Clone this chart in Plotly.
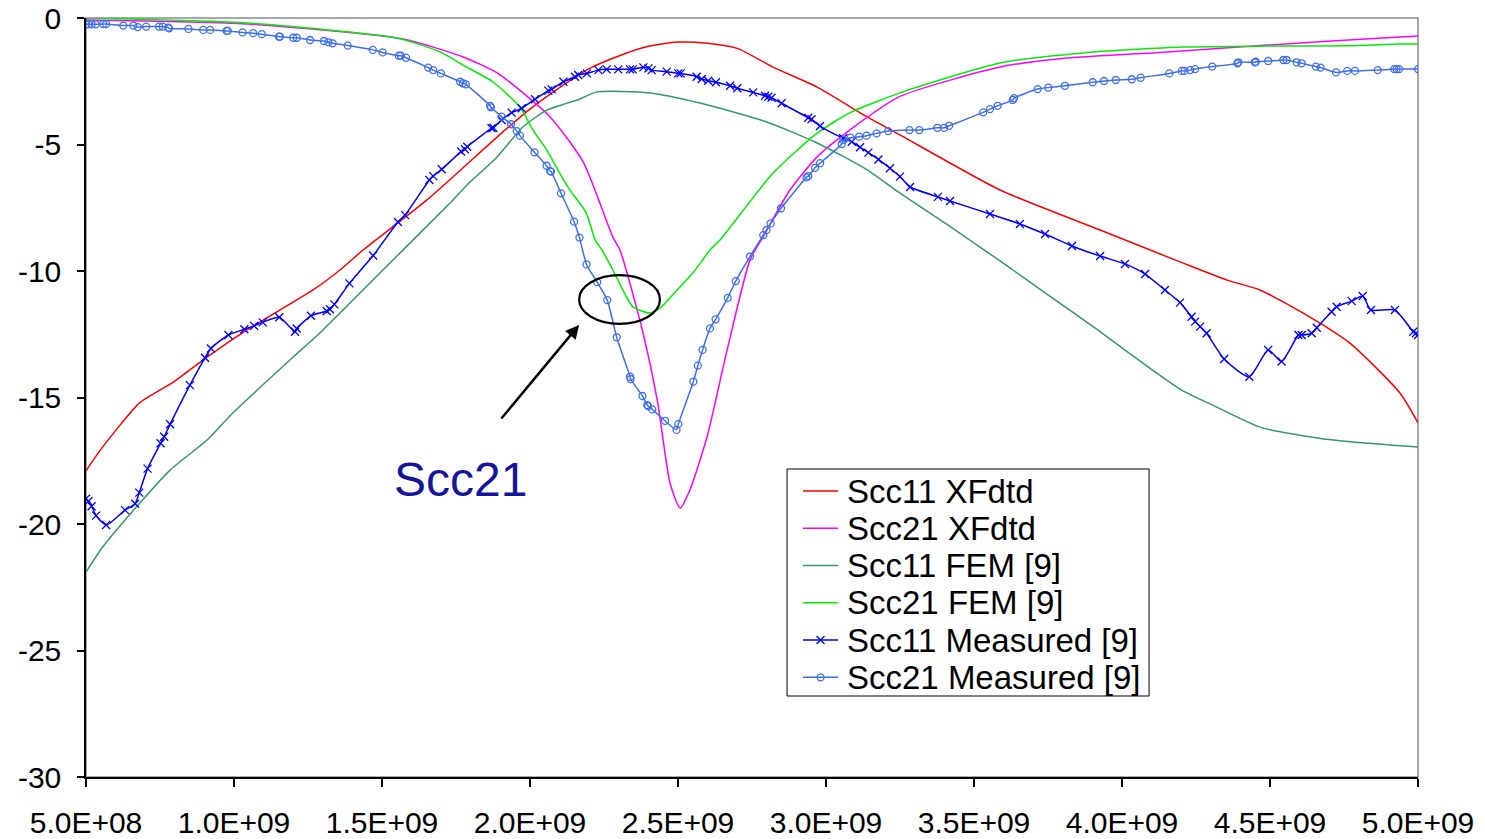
import plotly.graph_objects as go

# Frequency in GHz, magnitude in dB
f_scc11_xf = [0.5, 0.547, 0.682, 0.794, 0.909, 1.044, 1.267, 1.358, 1.436, 1.652, 1.899, 2.0, 2.1, 2.2,
              2.3, 2.4, 2.5, 2.6, 2.7, 2.821, 2.97, 3.139, 3.25, 3.588, 3.926, 4.196, 4.355, 4.466, 4.635,
              4.77, 4.939, 5.0]
db_scc11_xf = [-17.9, -17.1, -15.2, -14.4, -13.4, -12.33, -10.75, -9.96, -9.17, -7.19, -4.6, -3.6, -2.75,
               -2.0, -1.5, -1.12, -0.95, -1.0, -1.2, -1.94, -2.73, -3.91, -4.62, -6.8, -8.38, -9.64, -10.36,
               -10.75, -11.82, -12.85, -14.82, -16.0]

f_scc21_xf = [0.5, 1.044, 1.571, 1.774, 1.889, 2.068, 2.18, 2.28, 2.304, 2.382, 2.43, 2.473, 2.507, 2.54,
              2.598, 2.666, 2.743, 2.787, 2.878, 2.97, 3.08, 3.25, 3.588, 3.814, 4.152, 4.49, 4.939, 5.0]
db_scc21_xf = [-0.08, -0.24, -0.83, -1.54, -2.17, -3.91, -5.7, -8.66, -9.17, -12.45, -15.1, -18.38, -19.37,
               -18.66, -16.56, -13.12, -9.57, -8.66, -6.8, -5.49, -4.43, -3.1, -1.94, -1.58, -1.34, -1.07,
               -0.75, -0.71]

f_scc11_fem = [0.5, 0.557, 0.682, 0.784, 0.909, 0.997, 1.2, 1.29, 1.493, 1.74, 1.787, 1.889, 1.976, 2.057,
               2.169, 2.226, 2.405, 2.574, 2.8, 2.97, 3.139, 3.25, 3.42, 3.588, 3.757, 3.926, 4.095, 4.2,
               4.32, 4.466, 4.66, 4.77, 5.0]
db_scc11_fem = [-21.9, -20.9, -19.17, -17.87, -16.68, -15.6, -13.4, -12.45, -10.08, -7.19, -6.6, -5.49, -4.31,
                -3.64, -3.2, -2.92, -2.96, -3.36, -4.11, -4.94, -6.0, -6.92, -8.25, -9.6, -11.0, -12.4,
                -13.85, -14.7, -15.38, -16.17, -16.6, -16.75, -16.96]

f_scc21_fem = [0.5, 1.044, 1.55, 1.696, 1.774, 1.875, 1.966, 2.01, 2.057, 2.1, 2.135, 2.19, 2.22, 2.243,
               2.28, 2.348, 2.405, 2.44, 2.497, 2.55, 2.608, 2.642, 2.821, 2.97, 3.08, 3.25, 3.588, 3.868,
               4.206, 4.49, 4.77, 4.94, 5.0]
db_scc21_fem = [0.0, -0.2, -0.79, -1.34, -1.86, -2.53, -3.52, -4.43, -5.22, -6.13, -6.8, -7.7, -8.77, -9.17,
                -9.96, -11.42, -11.66, -11.46, -10.75, -10.08, -9.17, -8.77, -6.13, -4.55, -3.75, -2.96,
                -1.78, -1.38, -1.15, -1.11, -1.1, -1.03, -1.03]

f_scc11_meas = [0.5, 0.508, 0.519, 0.534, 0.568, 0.632, 0.666, 0.68, 0.708, 0.752, 0.764, 0.784, 0.851,
                0.902, 0.922, 0.981, 1.035, 1.068, 1.097, 1.153, 1.206, 1.212, 1.26, 1.313, 1.324, 1.339,
                1.39, 1.47, 1.554, 1.578, 1.66, 1.673, 1.702, 1.767, 1.78, 1.788, 1.87, 1.876, 1.904,
                1.938, 1.972, 2.017, 2.062, 2.073, 2.113, 2.152, 2.163, 2.192, 2.231, 2.259, 2.298, 2.338,
                2.347, 2.383, 2.4, 2.411, 2.462, 2.501, 2.509, 2.563, 2.58, 2.602, 2.628, 2.676, 2.7,
                2.754, 2.794, 2.805, 2.816, 2.85, 2.94, 2.951, 2.98, 3.058, 3.087, 3.115, 3.143, 3.177,
                3.216, 3.25, 3.284, 3.378, 3.419, 3.554, 3.655, 3.74, 3.831, 3.926, 4.01, 4.078, 4.145,
                4.196, 4.235, 4.247, 4.264, 4.286, 4.345, 4.43, 4.494, 4.539, 4.596, 4.607, 4.641, 4.658,
                4.708, 4.725, 4.776, 4.813, 4.841, 4.922, 4.984, 4.993, 5.0]
db_scc11_meas = [-19.0, -19.1, -19.3, -19.67, -20.04, -19.45, -19.2, -18.76, -17.81, -16.81, -16.55, -16.06,
                 -14.51, -13.43, -13.06, -12.53, -12.3, -12.17, -12.03, -11.83, -12.4, -12.27, -11.77,
                 -11.58, -11.51, -11.32, -10.49, -9.39, -8.06, -7.79, -6.4, -6.25, -5.98, -5.28, -5.19,
                 -5.09, -4.36, -4.34, -4.03, -3.74, -3.57, -3.21, -2.87, -2.82, -2.52, -2.32, -2.25, -2.19,
                 -2.06, -2.03, -2.03, -2.03, -2.03, -1.95, -1.99, -2.06, -2.12, -2.19, -2.19, -2.32, -2.41,
                 -2.48, -2.54, -2.68, -2.78, -2.94, -3.07, -3.11, -3.15, -3.37, -3.94, -4.0, -4.27, -4.75,
                 -4.89, -5.11, -5.32, -5.59, -5.94, -6.27, -6.68, -7.07, -7.23, -7.75, -8.14, -8.54, -9.01,
                 -9.41, -9.72, -10.12, -10.75, -11.25, -11.81, -12.0, -12.2, -12.46, -13.48, -14.18, -13.12,
                 -13.58, -12.53, -12.53, -12.46, -12.24, -11.61, -11.41, -11.19, -10.99, -11.54, -11.54,
                 -12.4, -12.46, -12.53]

f_scc21_meas = [0.5, 0.508, 0.519, 0.533, 0.558, 0.568, 0.626, 0.66, 0.675, 0.703, 0.747, 0.759, 0.778,
                0.781, 0.846, 0.896, 0.919, 0.975, 0.979, 1.029, 1.065, 1.094, 1.152, 1.155, 1.2, 1.212,
                1.257, 1.304, 1.319, 1.333, 1.384, 1.469, 1.502, 1.557, 1.564, 1.581, 1.656, 1.673, 1.699,
                1.764, 1.773, 1.783, 1.865, 1.868, 1.904, 1.936, 1.955, 1.966, 2.015, 2.056, 2.068, 2.071,
                2.105, 2.149, 2.167, 2.191, 2.227, 2.261, 2.293, 2.338, 2.34, 2.38, 2.396, 2.399, 2.413,
                2.456, 2.495, 2.501, 2.552, 2.567, 2.583, 2.608, 2.627, 2.668, 2.695, 2.743, 2.788, 2.799,
                2.813, 2.848, 2.934, 2.94, 2.963, 2.98, 3.053, 3.059, 3.083, 3.112, 3.137, 3.171, 3.21,
                3.282, 3.315, 3.376, 3.399, 3.416, 3.531, 3.554, 3.58, 3.631, 3.635, 3.715, 3.751, 3.807,
                3.901, 3.939, 3.979, 4.033, 4.063, 4.16, 4.202, 4.211, 4.23, 4.247, 4.305, 4.39, 4.393,
                4.449, 4.452, 4.494, 4.545, 4.556, 4.59, 4.607, 4.655, 4.671, 4.723, 4.761, 4.787, 4.864,
                4.92, 4.928, 4.936, 5.0]
db_scc21_meas = [-0.25, -0.25, -0.25, -0.25, -0.24, -0.24, -0.3, -0.3, -0.36, -0.34, -0.34, -0.34, -0.38,
                 -0.41, -0.43, -0.47, -0.47, -0.51, -0.51, -0.57, -0.6, -0.64, -0.74, -0.74, -0.78, -0.78,
                 -0.87, -0.91, -0.96, -1.0, -1.09, -1.26, -1.36, -1.49, -1.49, -1.57, -1.96, -2.06, -2.19,
                 -2.52, -2.58, -2.62, -3.47, -3.53, -3.9, -4.2, -4.47, -4.65, -5.31, -5.84, -6.05, -6.07,
                 -6.93, -8.05, -8.68, -9.74, -10.44, -11.15, -12.62, -14.18, -14.27, -14.94, -15.3, -15.34,
                 -15.47, -15.92, -16.28, -16.05, -14.37, -13.74, -13.12, -12.27, -11.91, -11.06, -10.4,
                 -9.43, -8.58, -8.38, -8.12, -7.52, -6.3, -6.25, -5.92, -5.74, -4.98, -4.82, -4.73, -4.69,
                 -4.65, -4.56, -4.47, -4.43, -4.43, -4.34, -4.34, -4.26, -3.73, -3.6, -3.47, -3.24, -3.17,
                 -2.81, -2.75, -2.68, -2.54, -2.49, -2.45, -2.42, -2.36, -2.19, -2.09, -2.09, -2.06, -2.02,
                 -1.92, -1.79, -1.75, -1.75, -1.73, -1.7, -1.66, -1.66, -1.75, -1.79, -1.92, -1.96, -2.15,
                 -2.09, -2.09, -2.06, -2.02, -2.02, -2.02, -2.02]

tick_vals_ghz = [0.5, 1.0, 1.5, 2.0, 2.5, 3.0, 3.5, 4.0, 4.5, 5.0]
tick_text = ["5.0E+08", "1.0E+09", "1.5E+09", "2.0E+09", "2.5E+09",
             "3.0E+09", "3.5E+09", "4.0E+09", "4.5E+09", "5.0E+09"]
y_ticks = [0, -5, -10, -15, -20, -25, -30]
y_tick_text = ["0", "-5", "-10", "-15", "-20", "-25", "-30"]


def hz(values):
    return [v * 1e9 for v in values]


FONT = "Liberation Sans, Arial, sans-serif"

series = [
    ("Scc11 XFdtd", f_scc11_xf, db_scc11_xf, "#ff0000", None),
    ("Scc21 XFdtd", f_scc21_xf, db_scc21_xf, "#ff00ff", None),
    ("Scc11 FEM [9]", f_scc11_fem, db_scc11_fem, "#339966", None),
    ("Scc21 FEM [9]", f_scc21_fem, db_scc21_fem, "#00ee00", None),
    ("Scc11 Measured [9]", f_scc11_meas, db_scc11_meas, "#0000ff", "x-thin-open"),
    ("Scc21 Measured [9]", f_scc21_meas, db_scc21_meas, "#3f6ff0", "circle-open"),
]


def marker_style(symbol, color):
    return dict(symbol=symbol, size=8 if symbol.startswith("x") else 7,
                color=color, line=dict(color=color, width=1.3))


fig = go.Figure()

for name, f, db, color, symbol in series:
    kwargs = dict(x=hz(f), y=db, name=name, showlegend=False,
                  line=dict(color=color, width=1.5, shape="spline", smoothing=0.6))
    if symbol:
        kwargs["mode"] = "lines+markers"
        kwargs["marker"] = marker_style(symbol, color)
    else:
        kwargs["mode"] = "lines"
    fig.add_trace(go.Scatter(**kwargs))

# Boxed legend drawn on an overlay axis pair spanning the plot area (0..1 each way)
LEG_X0, LEG_X1, LEG_Y0, LEG_Y1 = 0.5263, 0.7981, 0.1067, 0.4058
LEG_ROW_TOP, LEG_ROW_STEP = 0.3768, 0.0491
SAMPLE_X0, SAMPLE_X1, TEXT_X = 0.5383, 0.5646, 0.5698

fig.add_shape(type="rect", xref="paper", yref="paper", x0=LEG_X0, x1=LEG_X1, y0=LEG_Y0, y1=LEG_Y1,
              line=dict(color="black", width=1), fillcolor="white", layer="below")
for i, (name, f, db, color, symbol) in enumerate(series):
    yy = LEG_ROW_TOP - i * LEG_ROW_STEP
    fig.add_trace(go.Scatter(x=[SAMPLE_X0, SAMPLE_X1], y=[yy, yy], xaxis="x2", yaxis="y2",
                             mode="lines", line=dict(color=color, width=1.5),
                             showlegend=False, hoverinfo="skip"))
    if symbol:
        fig.add_trace(go.Scatter(x=[(SAMPLE_X0 + SAMPLE_X1) / 2], y=[yy], xaxis="x2", yaxis="y2",
                                 mode="markers", marker=marker_style(symbol, color),
                                 showlegend=False, hoverinfo="skip"))
    fig.add_annotation(x=TEXT_X, y=yy, xref="paper", yref="paper", text=name, showarrow=False,
                       xanchor="left", yanchor="middle",
                       font=dict(family=FONT, size=33, color="black"))

# Highlight ellipse around the Scc21 region and its pointer
fig.add_shape(type="circle", xref="x", yref="y",
              x0=2.166e9, x1=2.439e9, y0=-10.16, y1=-12.09,
              line=dict(color="black", width=2.2))
fig.add_annotation(x=2.166e9, y=-12.13, ax=1.899e9, ay=-15.89, xref="x", yref="y",
                   axref="x", ayref="y", text="", showarrow=True,
                   arrowhead=2, arrowsize=1.1, arrowwidth=2.5, arrowcolor="black", standoff=0)
fig.add_annotation(x=1.764e9, y=-18.26, xref="x", yref="y", text="Scc21", showarrow=False,
                   font=dict(family=FONT, size=48, color="#14149c"))

# Grey plot-area border
fig.add_shape(type="rect", xref="paper", yref="paper", x0=0, x1=1, y0=0, y1=1,
              line=dict(color="#8c8c8c", width=1.5), layer="below")

fig.update_layout(
    width=1485, height=839,
    margin=dict(l=86, r=67, t=18, b=62),
    paper_bgcolor="white", plot_bgcolor="white",
    font=dict(family=FONT, size=30, color="black"),
    showlegend=False,
    xaxis2=dict(overlaying="x", range=[0, 1], visible=False, fixedrange=True),
    yaxis2=dict(overlaying="y", range=[0, 1], visible=False, fixedrange=True),
)
fig.layout.xaxis.update(range=[5e8, 5e9], tickvals=hz(tick_vals_ghz), ticktext=tick_text,
                        showgrid=False, zeroline=False, showline=True, linecolor="black", linewidth=1.5,
                        ticks="outside", ticklen=8, tickcolor="black", tickwidth=1.5,
                        ticklabelstandoff=10, automargin=False,
                        tickfont=dict(family=FONT, size=30))
fig.layout.yaxis.update(range=[-30, 0], tickvals=y_ticks, ticktext=y_tick_text, showgrid=False,
                        zeroline=False, showline=True, linecolor="black", linewidth=1.5,
                        ticks="outside", ticklen=7, tickcolor="black", tickwidth=1.5,
                        ticklabelstandoff=10, automargin=False,
                        tickfont=dict(family=FONT, size=30))

fig.write_html("out.html")
